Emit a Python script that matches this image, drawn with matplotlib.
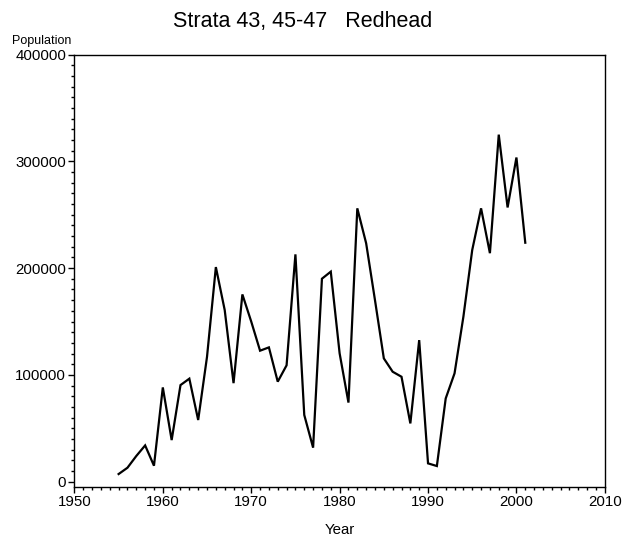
import matplotlib
matplotlib.use("Agg")
import matplotlib.pyplot as plt
from matplotlib.ticker import MultipleLocator

plt.rcParams["font.family"] = ["Liberation Sans", "DejaVu Sans"]

# Redhead population, strata 43, 45-47
years = list(range(1955, 2002))
population = [
    7200, 13100, 24100, 34000, 15000, 88300, 39000, 90500, 96500, 57800,
    117000, 201000, 160800, 92300, 175400, 150000, 122700, 125800, 93700, 109000,
    212900, 62500, 31900, 190100, 196700, 120200, 74100, 256000, 223300, 170000,
    115500, 103000, 98300, 54600, 132600, 17200, 14700, 78000, 101500, 154500,
    217000, 256000, 214000, 325000, 256800, 303600, 223800,
]
title = "Strata 43, 45-47   Redhead"

fig = plt.figure(figsize=(6.36, 5.40), dpi=100)
ax = fig.add_axes([0.117, 0.099, 0.834, 0.800])
ax.plot(years, population, color="black", lw=1.6, solid_joinstyle="miter")

ax.set_xlim(1950, 2010)
ax.set_ylim(-4500, 400000)
ax.xaxis.set_major_locator(MultipleLocator(10))
ax.xaxis.set_minor_locator(MultipleLocator(1))
ax.yaxis.set_major_locator(MultipleLocator(100000))
ax.yaxis.set_minor_locator(MultipleLocator(10000))
ax.set_yticks([0, 100000, 200000, 300000, 400000])
ax.set_yticklabels(["0", "100000", "200000", "300000", "400000"])
ax.tick_params(which="major", direction="out", length=4, width=1, labelsize=10.8, pad=2)
ax.tick_params(which="minor", direction="out", length=2.5, width=1)
for s in ax.spines.values():
    s.set_linewidth(1.0)

ax.set_xlabel("Year", fontsize=10.8, labelpad=10)
fig.text(0.066, 0.924, "Population", fontsize=9, ha="center", va="center")
fig.text(0.476, 0.950, title, fontsize=15.5, ha="center", va="baseline")

fig.savefig("out.png", dpi=100)
